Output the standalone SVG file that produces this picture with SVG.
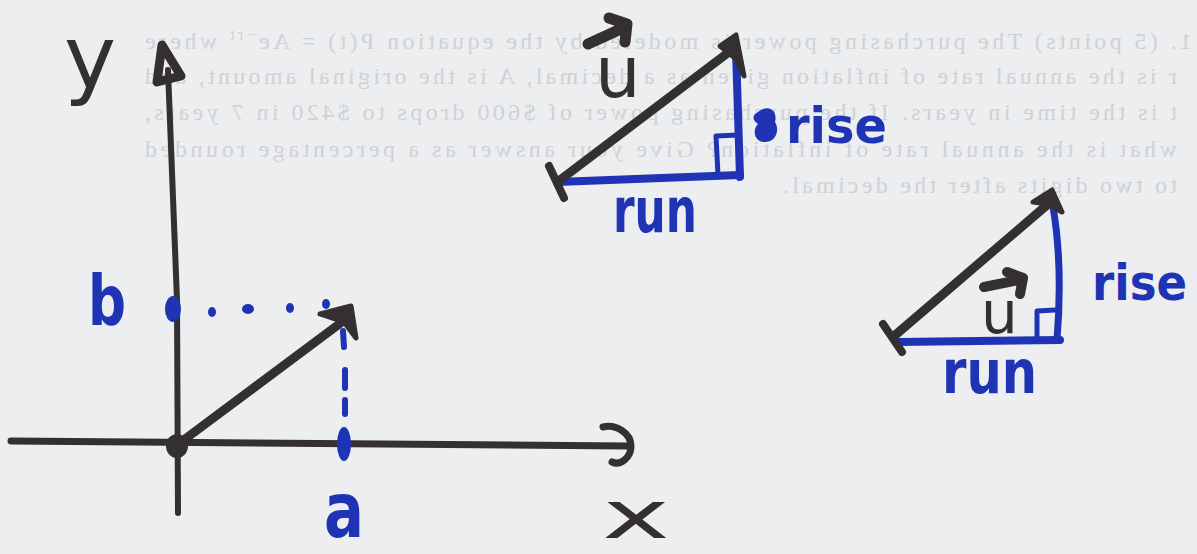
<svg xmlns="http://www.w3.org/2000/svg" width="1197" height="554" viewBox="0 0 1197 554">
<defs>
<style>
.ink{fill:none;stroke:#342f30;stroke-linecap:round;stroke-linejoin:round}
.blue{fill:none;stroke:#1f34b4;stroke-linecap:round;stroke-linejoin:round}
.dk{fill:#342f30}
.bl{fill:#1f34b4}
.hand{font-family:"DejaVu Sans","Liberation Sans",sans-serif}
.ghost{font-family:"Liberation Serif","DejaVu Serif",serif;font-size:24px;fill:#cfd2d6}
</style>
</defs>
<rect width="1197" height="554" fill="#eceef0"/>

<g id="bleed-through" transform="matrix(-1 0 0 1 1197 0)">
<text class="ghost" x="5" y="49" textLength="1047" lengthAdjust="spacing">1. (5 points) The purchasing power is modeled by the equation P(t) = Ae<tspan dy="-9" font-size="16">−rt</tspan><tspan dy="9"> where</tspan></text>
<text class="ghost" x="20" y="84" textLength="1032" lengthAdjust="spacing">r is the annual rate of inflation given as a decimal, A is the original amount, and</text>
<text class="ghost" x="20" y="120" textLength="1032" lengthAdjust="spacing">t is the time in years. If the purchasing power of $600 drops to $420 in 7 years,</text>
<text class="ghost" x="20" y="157" textLength="1032" lengthAdjust="spacing">what is the annual rate of inflation? Give your answer as a percentage rounded</text>
<text class="ghost" x="20" y="193" textLength="394" lengthAdjust="spacing">to two digits after the decimal.</text>
</g>

<g id="connectors">
<path class="ink" stroke-width="6" d="M168,70 L177,300 L178,513"/>
<path class="ink" stroke-width="9" d="M162,45 L157,82 L181,76 Z"/>
<path class="ink" stroke-width="7" d="M11,441 L628,446"/>
<path class="ink" stroke-width="7" d="M603,427 C616,424 631,433 631,446 C631,458 620,466 612,462"/>
<path class="ink" stroke-width="9" d="M181,442 L346,319"/>
<path class="dk" stroke="#342f30" stroke-width="5" stroke-linejoin="round" d="M320,314 L351,306 L356,338 L344,322 Z"/>
<path class="blue" stroke-width="6" d="M343,331 L344,347 M345,370 L345,388 M345,400 L345,414"/>
<ellipse class="bl" cx="212" cy="312" rx="4" ry="5"/>
<ellipse class="bl" cx="248" cy="309" rx="6" ry="5"/>
<ellipse class="bl" cx="290" cy="308" rx="4" ry="5"/>
<ellipse class="bl" cx="326" cy="304" rx="4" ry="5"/>
</g>

<g id="origin"><ellipse class="dk" cx="177" cy="446" rx="11" ry="12"/></g>
<g id="point-b"><ellipse class="bl" cx="173" cy="309" rx="8" ry="13"/></g>
<g id="point-a"><ellipse class="bl" cx="344" cy="444" rx="7" ry="17"/></g>

<g id="label-y"><text class="hand dk" x="64" y="88" font-size="88">y</text></g>
<g id="label-x"><text class="hand dk" x="602" y="538" font-size="66" textLength="68" lengthAdjust="spacingAndGlyphs">x</text></g>
<g id="label-b"><text class="hand bl" x="88" y="325" font-size="70" font-weight="bold" textLength="38" lengthAdjust="spacingAndGlyphs">b</text></g>
<g id="label-a"><text class="hand bl" x="324" y="537" font-size="76" font-weight="bold" textLength="40" lengthAdjust="spacingAndGlyphs">a</text></g>

<g id="triangle-top">
<path class="blue" stroke-width="8" d="M557,182 L740,175"/>
<path class="blue" stroke-width="8" d="M736,50 L740,177"/>
<path class="blue" stroke-width="5" d="M718,175 L716,136 L738,135"/>
<path class="ink" stroke-width="9" d="M560,180 L729,52"/>
<path class="dk" stroke="#342f30" stroke-width="5" stroke-linejoin="round" d="M720,46 L736,35 L744,76 L735,58 Z"/>
<path class="ink" stroke-width="8" d="M549,166 L564,198"/>
<path class="ink" stroke-width="11" d="M588,44 L623,28 M609,18 L627,24 L625,42"/>
<text class="hand dk" x="595" y="97" font-size="72">u</text>
<path class="bl" d="M758,112 C768,104 778,110 775,122 C780,130 776,142 765,142 C754,142 752,130 758,124 C752,120 752,115 758,112 Z"/>
<text class="hand bl" x="786" y="143" font-size="50" font-weight="bold" textLength="101" lengthAdjust="spacingAndGlyphs">rise</text>
<text class="hand bl" x="613" y="232" font-size="62" font-weight="bold" textLength="84" lengthAdjust="spacingAndGlyphs">run</text>
</g>

<g id="triangle-right">
<path class="blue" stroke-width="8" d="M897,342 L1060,340"/>
<path class="blue" stroke-width="7" d="M1053,207 Q1063,265 1057,340"/>
<path class="blue" stroke-width="5" d="M1037,340 L1037,311 L1055,310"/>
<path class="ink" stroke-width="9" d="M893,337 L1047,205"/>
<path class="dk" stroke="#342f30" stroke-width="5" stroke-linejoin="round" d="M1033,202 L1052,190 L1062,212 L1047,204 Z"/>
<path class="ink" stroke-width="8" d="M883,324 L902,352"/>
<path class="ink" stroke-width="10" d="M984,287 L1019,280 M1007,272 L1023,278 L1020,294"/>
<text class="hand dk" x="981" y="333" font-size="58">u</text>
<text class="hand bl" x="1092" y="300" font-size="50" font-weight="bold" textLength="95" lengthAdjust="spacingAndGlyphs">rise</text>
<text class="hand bl" x="942" y="393" font-size="60" font-weight="bold" textLength="95" lengthAdjust="spacingAndGlyphs">run</text>
</g>
</svg>
